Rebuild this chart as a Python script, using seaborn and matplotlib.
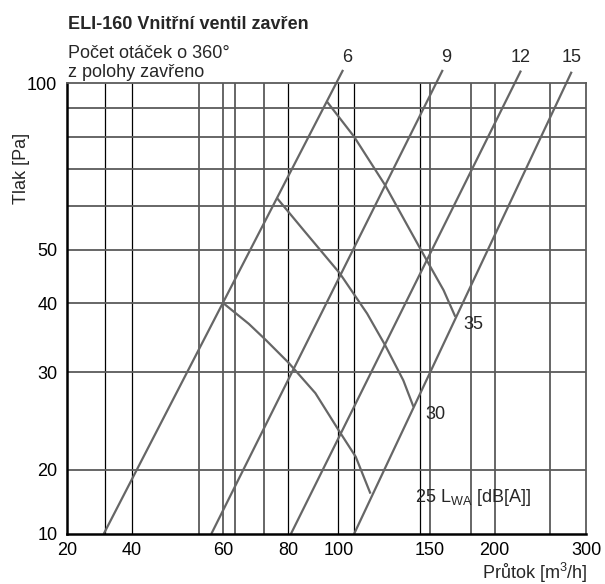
import numpy as np
import pandas as pd
import matplotlib
matplotlib.use("Agg")
import matplotlib.pyplot as plt
import seaborn as sns

# ---------------- data ----------------
title = "ELI-160 Vnitřní ventil zavřen"
subtitle = "Počet otáček o 360°\nz polohy zavřeno"
x_label = "Průtok [m$^{3}$/h]"
y_label = "Tlak [Pa]"

x_tick_pos = [30, 40, 60, 80, 100, 150, 200, 300]
x_tick_labels = ["20", "40", "60", "80", "100", "150", "200", "300"]
y_tick_pos = [15.3, 20, 30, 40, 50, 100]
y_tick_labels = ["10", "20", "30", "40", "50", "100"]

x_grid_dark = [35.5, 40, 80, 100, 107, 143.5]
x_grid_gray = [54, 60, 63.2, 72, 150, 180, 200, 256]
y_grid = [20, 30, 40, 50, 60, 70, 80, 90]

turn_labels = ["6", "9", "12", "15"]
turn_x = [[35.3, 102.1], [56.9, 158.9], [81.0, 224.8], [107.2, 281.5]]
turn_y = [[15.3, 105.6], [15.3, 105.6], [15.3, 105.3], [15.3, 104.8]]
turn_label_x = [104.0, 161.0, 224.8, 281.5]
turn_label_y = 111.1

noise_labels = ["25 L$_{\\mathrm{WA}}$ [dB[A]]", "30", "35"]
noise_x = [
    [60.0, 67.2, 72.5, 80.2, 90.3, 100.6, 108.0, 115.3],
    [76.2, 85.7, 100.6, 113.6, 123.0, 133.4, 139.5],
    [95.1, 107.2, 123.0, 137.4, 148.0, 159.5, 168.0],
]
noise_y = [
    [40.0, 36.7, 34.3, 31.2, 27.5, 23.4, 21.1, 18.1],
    [61.9, 54.2, 45.3, 38.3, 33.6, 29.0, 26.0],
    [92.5, 80.0, 65.4, 54.2, 47.8, 42.2, 37.8],
]
noise_label_x = [140.6, 147.2, 174.0]
noise_label_y = [17.8, 25.2, 36.6]

# ---------------- plot ----------------
sns.set_theme(style="white")
plt.rcParams["font.family"] = ["Liberation Sans", "DejaVu Sans"]
plt.rcParams["mathtext.fontset"] = "custom"
plt.rcParams["mathtext.rm"] = "Liberation Sans"
plt.rcParams["mathtext.it"] = "Liberation Sans:italic"

FS = 13

fig = plt.figure(figsize=(6.05, 5.84), dpi=100)
ax = fig.add_axes([67 / 605, 1 - 534 / 584, (586 - 67) / 605, (534 - 83) / 584])
ax.set_xscale("log")
ax.set_yscale("log")
ax.set_xlim(30, 300)
ax.set_ylim(15.3, 100)

grid_gray = "#5a5a5a"
for xv in x_grid_gray:
    ax.axvline(xv, color=grid_gray, lw=1.3, zorder=1)
for xv in x_grid_dark:
    ax.axvline(xv, color="#000000", lw=0.9, zorder=1)
for yv in y_grid:
    ax.axhline(yv, color=grid_gray, lw=1.3, zorder=1)

curve_color = "#666666"
rows = []
for lab, xs, ys in zip(turn_labels, turn_x, turn_y):
    for xv, yv in zip(xs, ys):
        rows.append({"x": xv, "y": yv, "series": "t" + lab})
for lab, xs, ys in zip(noise_labels, noise_x, noise_y):
    for xv, yv in zip(xs, ys):
        rows.append({"x": xv, "y": yv, "series": "n" + lab})
df = pd.DataFrame(rows)
series_names = list(dict.fromkeys(df["series"]))
sns.lineplot(data=df, x="x", y="y", hue="series", units="series", estimator=None,
             sort=False, palette=[curve_color] * len(series_names), lw=1.6,
             legend=False, ax=ax, zorder=3)
for line in ax.get_lines():
    line.set_clip_on(False)
    line.set_solid_capstyle("butt")
    line.set_solid_joinstyle("round")

for lab, lx in zip(turn_labels, turn_label_x):
    ax.text(lx, turn_label_y, lab, ha="center", va="center", fontsize=FS, clip_on=False)
for lab, lx, ly in zip(noise_labels, noise_label_x, noise_label_y):
    ax.text(lx, ly, lab, ha="left", va="center", fontsize=FS, zorder=4)

ax.xaxis.set_minor_locator(matplotlib.ticker.NullLocator())
ax.yaxis.set_minor_locator(matplotlib.ticker.NullLocator())
ax.set_xticks(x_tick_pos)
ax.set_xticklabels(x_tick_labels)
ax.set_yticks(y_tick_pos)
ax.set_yticklabels(y_tick_labels)
ax.tick_params(axis="both", length=0, labelsize=FS, colors="#000000")
ax.tick_params(axis="x", pad=6)
ax.tick_params(axis="y", pad=7)
ax.set_xlabel("")
ax.set_ylabel("")

for side in ["top", "right"]:
    ax.spines[side].set_color(grid_gray)
    ax.spines[side].set_linewidth(1.3)
for side in ["left", "bottom"]:
    ax.spines[side].set_color("#000000")
    ax.spines[side].set_linewidth(1.8)
for s in ax.spines.values():
    s.set_zorder(5)

fig.text(68 / 605, 1 - 29 / 584, title, fontsize=FS, fontweight="bold", ha="left", va="baseline")
fig.text(68 / 605, 1 - 58 / 584, subtitle.split("\n")[0], fontsize=FS, ha="left", va="baseline")
fig.text(68 / 605, 1 - 77 / 584, subtitle.split("\n")[1], fontsize=FS, ha="left", va="baseline")
fig.text(21 / 605, 1 - 168 / 584, y_label, fontsize=FS, rotation=90, ha="center", va="center")
fig.text(587 / 605, 1 - 573 / 584, x_label, fontsize=FS, ha="right", va="center")

fig.savefig("out.png", dpi=100, facecolor="white")
